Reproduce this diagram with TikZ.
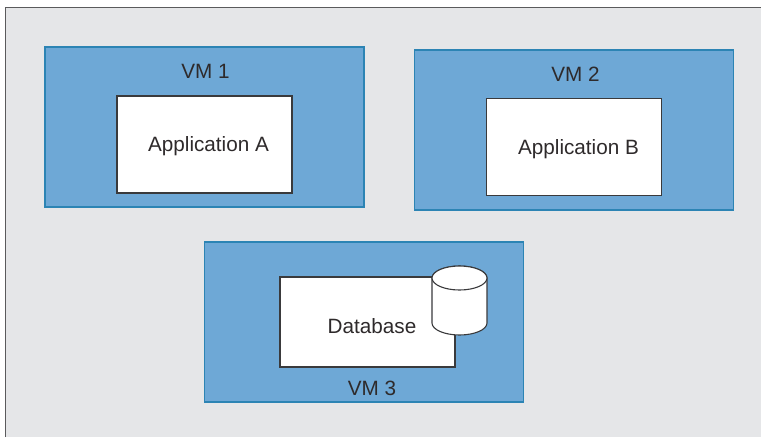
\documentclass[tikz,border=0pt]{standalone}
\usepackage{fontspec}
\setmainfont{Liberation Sans}
\definecolor{framegray}{HTML}{E5E6E8}
\definecolor{frameline}{HTML}{5A5A5C}
\definecolor{vmblue}{HTML}{6EA8D6}
\definecolor{vmline}{HTML}{2C84B4}
\definecolor{ink}{HTML}{3A3A3C}
\definecolor{txt}{HTML}{2E2A2B}
\tikzset{
  vmbox/.style={draw=vmline,fill=vmblue,line width=1.1pt,minimum width=319pt,minimum height=160pt,inner sep=0pt},
  appbox/.style={draw=ink,fill=white,line width=1.1pt,minimum width=175pt,minimum height=97pt,inner sep=0pt},
  label/.style={font=\fontsize{20.7pt}{24pt}\selectfont,text=txt,inner sep=0pt,anchor=base},
  dbshape/.style={draw=ink,fill=white,line width=1.1pt}
}
\begin{document}
\begin{tikzpicture}[x=1pt,y=-1pt]
\useasboundingbox (0,0) rectangle (761,437);
\fill[white] (0,0) rectangle (761,437);
\fill[framegray] (5.5,7.5) rectangle (761,437);
\draw[frameline,line width=1.4pt] (5.5,437) -- (5.5,7.5) -- (761,7.5);
\node[vmbox] (vm1) at (204.5,127) {};
\node[vmbox] (vm2) at (573.75,130) {};
\node[vmbox] (vm3) at (364,322) {};
\node[appbox] (appa) at (204.5,144.5) {};
\node[appbox] (appb) at (574,147) {};
\node[appbox,minimum height=90pt] (db) at (367.5,322) {};
\path[dbshape] (432,278) -- (432,323) arc[start angle=180,end angle=0,x radius=27.5,y radius=12] -- (487,278) arc[start angle=0,end angle=-180,x radius=27.5,y radius=12] -- cycle;
\draw[dbshape] (459.5,278) ellipse[x radius=27.5,y radius=12];
\node[label] (l1) at (205.5,78) {VM 1};
\node[label] (l2) at (575.5,81) {VM 2};
\node[label] (l3) at (372,395) {VM 3};
\node[label] (ta) at (208.5,151) {Application A};
\node[label] (tb) at (578.5,154) {Application B};
\node[label] (td) at (372,333) {Database};
\end{tikzpicture}
\end{document}
